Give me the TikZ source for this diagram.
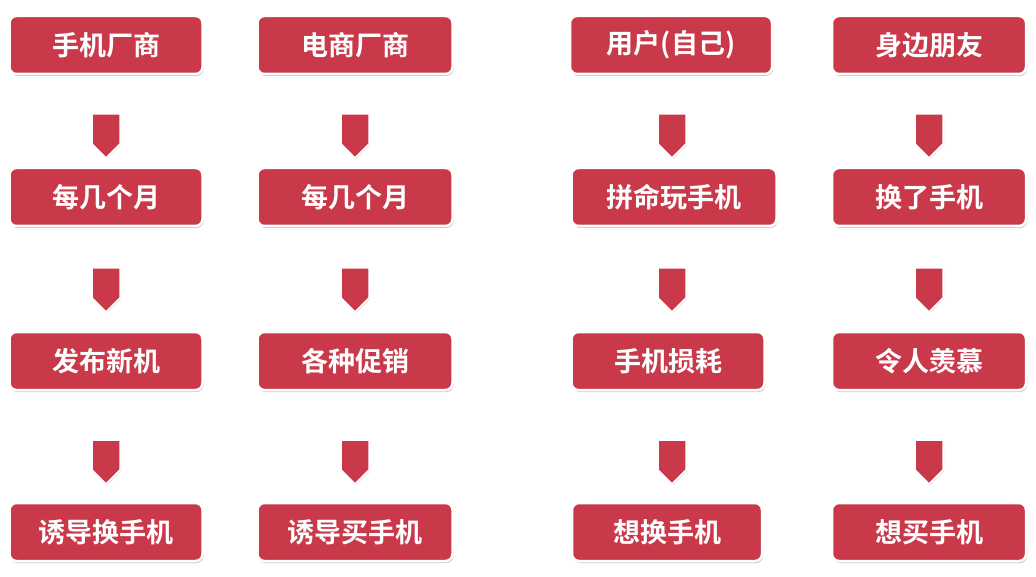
\documentclass[tikz,border=0pt]{standalone}
\usepackage{fontspec}
\newfontfamily\cjk{Noto Sans CJK SC Bold}
\usetikzlibrary{shapes.arrows,shadows}
\definecolor{boxred}{HTML}{C9394A}
\tikzset{
 box/.style={draw=white,line width=2.5pt,fill=boxred,rounded corners=7pt,minimum height=58pt,
   text=white,font=\cjk\fontsize{27}{30}\selectfont,inner sep=0pt,
   drop shadow={shadow xshift=1pt,shadow yshift=-2pt,fill=black!35,opacity=.6}},
 barrow/.style={single arrow,draw=white,line width=1.5pt,fill=boxred,minimum height=44pt,
   minimum width=28pt,single arrow head extend=0pt,single arrow tip angle=90,inner sep=4pt,rotate=-90,
   drop shadow={shadow xshift=1pt,shadow yshift=-1pt,fill=black!25,opacity=.5}}
}
\begin{document}
\begin{tikzpicture}[x=1pt,y=-1pt]
\useasboundingbox (0,0) rectangle (1036,577);
\foreach \n/\x/\w in {1/106/193,2/355/195,4/929/194}{}
\node[box,minimum width=193pt] (a1) at (106,45) {手机厂商};
\node[box,minimum width=193pt] (a2) at (106,197) {每几个月};
\node[box,minimum width=193pt] (a3) at (106,361) {发布新机};
\node[box,minimum width=193pt] (a4) at (106,532) {诱导换手机};
\node[box,minimum width=195pt] (b1) at (355,45) {电商厂商};
\node[box,minimum width=195pt] (b2) at (355,197) {每几个月};
\node[box,minimum width=195pt] (b3) at (355,361) {各种促销};
\node[box,minimum width=195pt] (b4) at (355,532) {诱导买手机};
\node[box,minimum width=202pt] (c1) at (671,45) {用户(自己)};
\node[box,minimum width=205pt] (c2) at (674,197) {拼命玩手机};
\node[box,minimum width=193pt] (c3) at (668,361) {手机损耗};
\node[box,minimum width=190pt] (c4) at (667,532) {想换手机};
\node[box,minimum width=194pt] (d1) at (929,45) {身边朋友};
\node[box,minimum width=194pt] (d2) at (929,197) {换了手机};
\node[box,minimum width=194pt] (d3) at (929,361) {令人羡慕};
\node[box,minimum width=194pt] (d4) at (929,532) {想买手机};
\foreach \c/\x in {a/106,b/355,c/672,d/929}{
 \node[barrow] (\c12) at (\x,129) {};
 \node[barrow] (\c23) at (\x,283) {};
 \node[barrow] (\c34) at (\x,455) {};
}
\end{tikzpicture}
\end{document}
